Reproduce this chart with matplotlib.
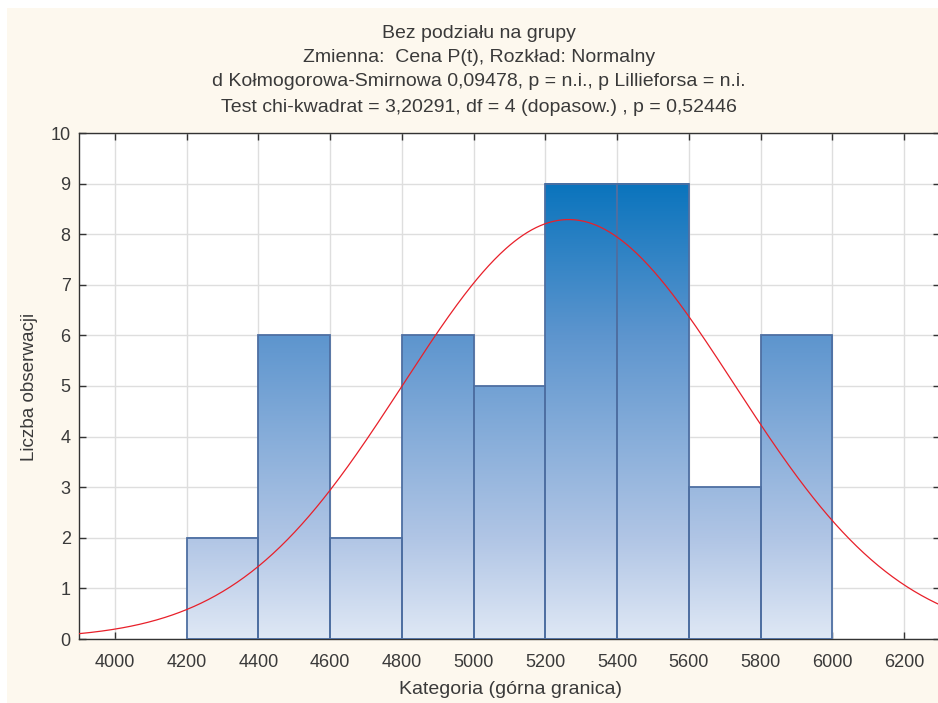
import numpy as np
import matplotlib
matplotlib.use("Agg")
import matplotlib.pyplot as plt
from matplotlib.colors import LinearSegmentedColormap, Normalize
from matplotlib.patches import Rectangle

# ---- data ----
bin_edges = [4200, 4400, 4600, 4800, 5000, 5200, 5400, 5600, 5800, 6000]
counts = [2, 6, 2, 6, 5, 9, 9, 3, 6]
fit_mean = 5265.0
fit_sd = 462.0
x_ticks = [4000, 4200, 4400, 4600, 4800, 5000, 5200, 5400, 5600, 5800, 6000, 6200]
y_ticks = [0, 1, 2, 3, 4, 5, 6, 7, 8, 9, 10]
title_lines = [
    "Bez podziału na grupy",
    "Zmienna:  Cena P(t), Rozkład: Normalny",
    "d Kołmogorowa-Smirnowa 0,09478, p = n.i., p Lillieforsa = n.i.",
    "Test chi-kwadrat = 3,20291, df = 4 (dopasow.) , p = 0,52446",
]
x_label = "Kategoria (górna granica)"
y_label = "Liczba obserwacji"

plt.rcParams['font.family'] = ['Liberation Sans', 'DejaVu Sans']
txt = '#3a3a3a'

W, H = 938, 703
fig = plt.figure(figsize=(W / 100, H / 100), dpi=100)
fig.patch.set_facecolor('white')
fig.patches.append(Rectangle((7 / W, 0), 1, (H - 8) / H, transform=fig.transFigure,
                             facecolor='#FDF8EE', edgecolor='none', zorder=-10))

ax_l, ax_r, ax_t, ax_b = 79, 940, 133, 639
ax = fig.add_axes([ax_l / W, (H - ax_b) / H, (ax_r - ax_l) / W, (ax_b - ax_t) / H])
ax.set_facecolor('white')

cmap = LinearSegmentedColormap.from_list(
    'grad', [(0, '#DFE8F5'), (2 / 9, '#B0C5E5'), (6 / 9, '#5D95CE'), (1, '#0A74BD')])
norm = Normalize(0, 9)
grad = np.linspace(0, 9, 256).reshape(-1, 1)

edges = np.array(bin_edges, dtype=float)
for i, c in enumerate(counts):
    x0, x1 = edges[i], edges[i + 1]
    g = grad[grad[:, 0] <= c].reshape(-1, 1)
    ax.imshow(g, cmap=cmap, norm=norm, origin='lower', aspect='auto',
              extent=[x0, x1, 0, c], zorder=2, interpolation='bilinear')
    ax.add_patch(Rectangle((x0, 0), x1 - x0, c, facecolor='none',
                           edgecolor='#4E6FA2', linewidth=1.3, zorder=3))
ax.set_xlim(3900, 6300)
ax.set_ylim(0, 10)

n = sum(counts)
bw = edges[1] - edges[0]
xs = np.linspace(3900, 6300, 600)
ys = n * bw / (np.sqrt(2 * np.pi) * fit_sd) * np.exp(-0.5 * ((xs - fit_mean) / fit_sd) ** 2)
ax.plot(xs, ys, color='#E8202A', linewidth=0.9, zorder=4)

ax.set_xticks(x_ticks)
ax.set_yticks(y_ticks)
ax.grid(True, color='#DEDEDE', linewidth=1.0, zorder=0)
ax.set_axisbelow(True)
ax.tick_params(direction='in', length=5, width=1, color='#333333', labelsize=13,
               labelcolor=txt, top=True, right=True, pad=6)
ax.tick_params(axis='x', pad=11)
for s in ax.spines.values():
    s.set_color('#333333')
    s.set_linewidth(1.0)

aw, ah = ax_r - ax_l, ax_b - ax_t
ax.set_xlabel(x_label, fontsize=14, color=txt, va='center')
ax.xaxis.set_label_coords((510 - ax_l) / aw, -(690 - ax_b) / ah)
ax.set_ylabel(y_label, fontsize=13.6, color=txt, va='center')
ax.yaxis.set_label_coords((29 - ax_l) / aw, (ax_b - 387) / ah)

ys_title = [33, 57, 82, 107]
for t, yp in zip(title_lines, ys_title):
    fig.text(479 / W, 1 - yp / H, t, ha='center', va='center', fontsize=14, color=txt)

fig.savefig('out.png', dpi=100, facecolor=fig.get_facecolor())
